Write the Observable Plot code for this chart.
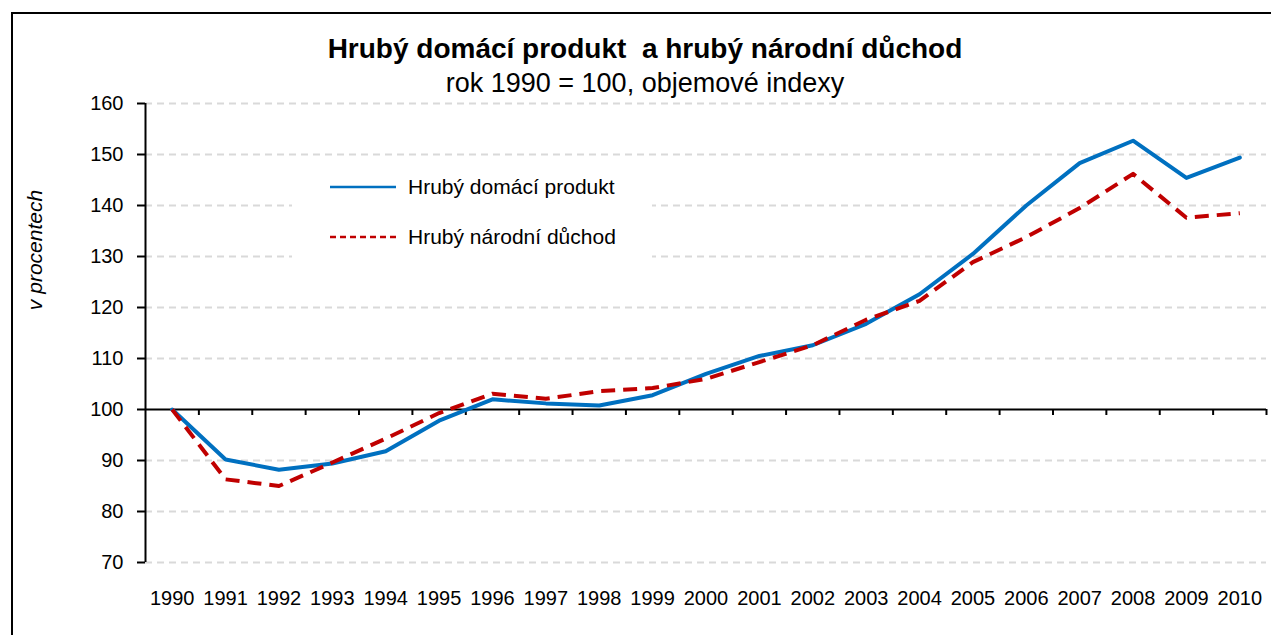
<!DOCTYPE html>
<html>
<head>
<meta charset="utf-8">
<script src="https://cdn.jsdelivr.net/npm/d3@7"></script>
<script src="https://cdn.jsdelivr.net/npm/@observablehq/plot@0.6"></script>
<style>
  html, body { margin: 0; padding: 0; background: #fff; }
  #wrap { position: relative; width: 1271px; height: 635px; overflow: hidden; font-family: "Liberation Sans", Arial, sans-serif; color: #000; }
  #border { position: absolute; left: 11px; top: 12px; width: 2000px; height: 2000px; border-left: 2px solid #000; border-top: 2px solid #000; }
  #chart { position: absolute; left: 0; top: 0; }
  .title { position: absolute; left: 0; width: 1290px; text-align: center; white-space: pre; line-height: 1; }
  #t1 { top: 35px; font-size: 28px; font-weight: bold; }
  #t2 { top: 70px; font-size: 27px; }
  #ylab { position: absolute; left: 35px; top: 250px; font-size: 21px; font-style: italic; transform: translate(-50%, -50%) rotate(-90deg); white-space: nowrap; }
  #legend { position: absolute; left: 292px; top: 162px; width: 360px; height: 116px; background: #fff; }
  .li { position: absolute; left: 38px; height: 24px; display: flex; align-items: center; font-size: 21px; white-space: nowrap; }
  .li svg { margin-right: 12px; }
</style>
</head>
<body>
<div id="wrap">
  <div id="chart"></div>
  <div id="border"></div>
  <div class="title" id="t1"></div>
  <div class="title" id="t2"></div>
  <div id="ylab"></div>
  <div id="legend"></div>
</div>
<script>
const years = [1990,1991,1992,1993,1994,1995,1996,1997,1998,1999,2000,2001,2002,2003,2004,2005,2006,2007,2008,2009,2010];
const gdp = [100,90.2,88.2,89.4,91.8,97.8,102.0,101.2,100.8,102.8,107.0,110.5,112.6,116.8,122.6,130.5,140.0,148.3,152.7,145.4,149.4];
const gni = [100,86.3,85.0,89.6,94.3,99.3,103.1,102.1,103.6,104.2,106.0,109.3,112.6,117.6,121.3,128.9,133.8,139.5,146.2,137.6,138.5];
const yTicks = [70,80,90,100,110,120,130,140,150,160];
const seriesNames = ["Hrubý domácí produkt", "Hrubý národní důchod"];
const titleText = "Hrubý domácí produkt  a hrubý národní důchod";
const subtitleText = "rok 1990 = 100, objemové indexy";
const yLabel = "v procentech";

const colGdp = "#0070c0", colGni = "#c00000";

const dGdp = years.map((y, i) => ({year: y, value: gdp[i]}));
const dGni = years.map((y, i) => ({year: y, value: gni[i]}));
const bounds = [years[0] - 0.5, ...years.map(y => y + 0.5)];

const chart = Plot.plot({
  width: 1271,
  height: 635,
  marginLeft: 145,
  marginRight: 5,
  marginTop: 103,
  marginBottom: 73,
  style: {fontFamily: '"Liberation Sans", Arial, sans-serif', fontSize: "20px", color: "#000", background: "transparent"},
  x: {type: "linear", domain: [years[0] - 0.5, years[years.length - 1] + 0.5]},
  y: {domain: [70, 160]},
  marks: [
    Plot.ruleY(yTicks.filter(d => d !== 100), {stroke: "#d9d9d9", strokeWidth: 2, strokeDasharray: "7,5"}),
    Plot.axisY({ticks: yTicks, tickSize: 8, tickPadding: 14, fontSize: 20, label: null, stroke: "#000", strokeWidth: 2, strokeOpacity: 1}),
    Plot.axisX({ticks: years, tickSize: 0, tickPadding: 28, fontSize: 20, label: null, tickFormat: d => String(d)}),
    Plot.ruleX([bounds[0]], {stroke: "#000", strokeWidth: 2}),
    Plot.ruleY([100], {stroke: "#000", strokeWidth: 2}),
    Plot.ruleX(bounds.slice(1), {y1: 100, y2: 100, insetBottom: -6, stroke: "#000", strokeWidth: 2}),
    Plot.line(dGdp, {x: "year", y: "value", stroke: colGdp, strokeWidth: 4}),
    Plot.line(dGni, {x: "year", y: "value", stroke: colGni, strokeWidth: 4, strokeDasharray: "14,8", strokeLinecap: "butt"})
  ]
});
document.getElementById("chart").appendChild(chart);

document.getElementById("t1").textContent = titleText;
document.getElementById("t2").textContent = subtitleText;
document.getElementById("ylab").textContent = yLabel;

const legend = document.getElementById("legend");
[[seriesNames[0], colGdp, null, 13], [seriesNames[1], colGni, "6,4", 63]].forEach(([name, col, dash, top]) => {
  const item = document.createElement("div");
  item.className = "li";
  item.style.top = top + "px";
  item.innerHTML = `<svg width="66" height="6"><line x1="0" y1="3" x2="66" y2="3" stroke="${col}" stroke-width="2.5" ${dash ? `stroke-dasharray="${dash}"` : ""}/></svg>`;
  const span = document.createElement("span");
  span.textContent = name;
  item.appendChild(span);
  legend.appendChild(item);
});
</script>
</body>
</html>
